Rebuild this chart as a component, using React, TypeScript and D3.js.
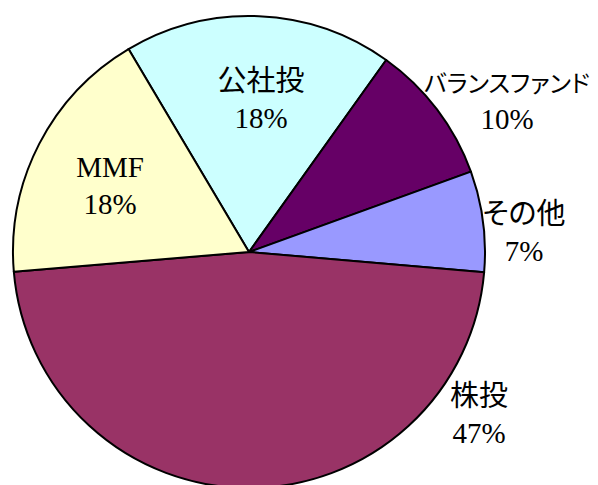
import React, { useEffect, useRef } from "react";
import * as d3 from "d3";

// 資産別の構成比 (%)
const categories = ["公社投", "バランスファンド", "その他", "株投", "MMF"];
const shares = [18.4, 9.6, 6.9, 47.3, 17.8];
const shareLabels = ["18%", "10%", "7%", "47%", "18%"];
const colors = ["#CCFFFF", "#660066", "#9999FF", "#993366", "#FFFFCC"];

// label anchors: [angle (deg, clockwise from top), radius factor]
const labelAnchors: [number, number][] = [
  [4.8, 0.612],
  [61.0, 1.25],
  [87.7, 1.166],
  [126.6, 1.214],
  [292.8, 0.639],
];

const PieChart = () => {
  const svgRef = useRef(null);
  const width = 598;
  const height = 485;
  const cx = 249;
  const cy = 252;
  const radius = 236;
  const startDeg = -30.7;
  const fontSize = 29;

  useEffect(() => {
    const svg = d3.select(svgRef.current);
    svg.selectAll("*").remove();

    const data = categories.map((c, i) => ({
      name: c,
      value: shares[i],
      label: shareLabels[i],
      color: colors[i],
    }));

    const start = (startDeg * Math.PI) / 180;
    const pie = d3
      .pie<any>()
      .sort(null)
      .value((d: any) => d.value)
      .startAngle(start)
      .endAngle(start + Math.PI * 2);

    const arc = d3.arc<any>().innerRadius(0).outerRadius(radius);

    const g = svg.append("g").attr("transform", `translate(${cx},${cy})`);

    g.selectAll(".slice")
      .data(pie(data))
      .enter()
      .append("path")
      .attr("class", "slice")
      .attr("d", arc)
      .attr("fill", (d: any) => d.data.color)
      .attr("stroke", "#000")
      .attr("stroke-width", 2)
      .attr("stroke-linejoin", "round");

    const anchorX = (i: number) =>
      Math.sin((labelAnchors[i][0] * Math.PI) / 180) * radius * labelAnchors[i][1];
    const anchorY = (i: number) =>
      -Math.cos((labelAnchors[i][0] * Math.PI) / 180) * radius * labelAnchors[i][1];

    const labels = g
      .selectAll(".label")
      .data(data)
      .enter()
      .append("text")
      .attr("class", "label")
      .attr("text-anchor", "middle")
      .style("font-family", "'Liberation Serif', 'Noto Sans CJK JP', serif")
      .style("font-size", `${fontSize}px`)
      .style("font-feature-settings", "'palt'")
      .attr("fill", "#000")
      .attr("transform", (d: any, i: number) => `translate(${anchorX(i)},${anchorY(i)})`);

    labels
      .append("tspan")
      .attr("class", "name")
      .attr("x", 0)
      .attr("y", -17)
      .text((d: any) => d.name);

    labels
      .append("tspan")
      .attr("x", 0)
      .attr("y", 20)
      .text((d: any) => d.label);

    // keep long names inside the frame
    g.selectAll<SVGTSpanElement, any>(".name").each(function (d: any, i: number) {
      const w = this.getComputedTextLength();
      const room = 2 * (width - 8 - (cx + anchorX(i)));
      if (w > room) {
        d3.select(this).style("font-size", `${(fontSize * room) / w}px`);
      }
    });
  }, []);

  return (
    <svg
      ref={svgRef}
      width={width}
      height={height}
      style={{ position: "absolute", left: 0, top: 0, background: "#fff" }}
    />
  );
};

export default function App() {
  return <PieChart />;
}
